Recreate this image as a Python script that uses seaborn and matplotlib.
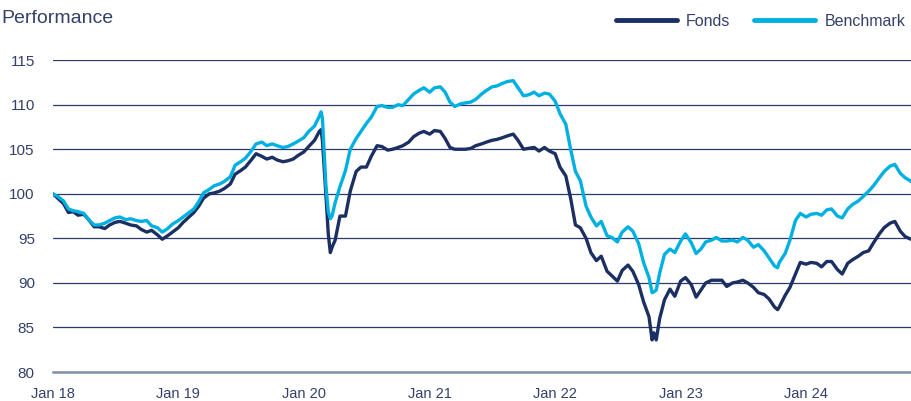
import pandas as pd
import numpy as np
import matplotlib
matplotlib.use('Agg')
import matplotlib.pyplot as plt
import matplotlib.dates as mdates
import seaborn as sns

# -------------------------------
# Data
# -------------------------------
dates = [
    '2018-01-01', '2018-01-15', '2018-02-01', '2018-02-15', '2018-03-01', '2018-03-15',
    '2018-04-01', '2018-04-15', '2018-05-01', '2018-05-15', '2018-06-01', '2018-06-15',
    '2018-07-01', '2018-07-15', '2018-08-01', '2018-08-15', '2018-09-01', '2018-09-15',
    '2018-10-01', '2018-10-15', '2018-11-01', '2018-11-15', '2018-12-01', '2018-12-15',
    '2019-01-01', '2019-01-15', '2019-02-01', '2019-02-15', '2019-03-01', '2019-03-15',
    '2019-04-01', '2019-04-15', '2019-05-01', '2019-05-15', '2019-06-01', '2019-06-15',
    '2019-07-01', '2019-07-15', '2019-08-01', '2019-08-15', '2019-09-01', '2019-09-15',
    '2019-10-01', '2019-10-15', '2019-11-01', '2019-11-15', '2019-12-01', '2019-12-15',
    '2020-01-01', '2020-01-15', '2020-02-01', '2020-02-15', '2020-02-20', '2020-02-24',
    '2020-03-05', '2020-03-12', '2020-03-18', '2020-03-23', '2020-04-01', '2020-04-15',
    '2020-05-01', '2020-05-15', '2020-06-01', '2020-06-15', '2020-07-01', '2020-07-15',
    '2020-08-01', '2020-08-15', '2020-09-01', '2020-09-15', '2020-10-01', '2020-10-15',
    '2020-11-01', '2020-11-15', '2020-12-01', '2020-12-15',
    '2021-01-01', '2021-01-15', '2021-02-01', '2021-02-15', '2021-03-01', '2021-03-15',
    '2021-04-01', '2021-04-15', '2021-05-01', '2021-05-15', '2021-06-01', '2021-06-15',
    '2021-07-01', '2021-07-15', '2021-08-01', '2021-08-15', '2021-09-01', '2021-09-15',
    '2021-10-01', '2021-10-15', '2021-11-01', '2021-11-15', '2021-12-01', '2021-12-15',
    '2022-01-01', '2022-01-15', '2022-02-01', '2022-02-15', '2022-03-01', '2022-03-15',
    '2022-04-01', '2022-04-15', '2022-05-01', '2022-05-15', '2022-06-01', '2022-06-15',
    '2022-07-01', '2022-07-15', '2022-08-01', '2022-08-15', '2022-09-01', '2022-09-15',
    '2022-10-01', '2022-10-10', '2022-10-15', '2022-10-22', '2022-11-01', '2022-11-15',
    '2022-12-01', '2022-12-15',
    '2023-01-01', '2023-01-15', '2023-02-01', '2023-02-15', '2023-03-01', '2023-03-15',
    '2023-04-01', '2023-04-15', '2023-05-01', '2023-05-15', '2023-06-01', '2023-06-15',
    '2023-07-01', '2023-07-15', '2023-08-01', '2023-08-15', '2023-09-01', '2023-09-15',
    '2023-10-01', '2023-10-10', '2023-10-15', '2023-11-01', '2023-11-15', '2023-12-01',
    '2023-12-15',
    '2024-01-01', '2024-01-15', '2024-02-01', '2024-02-15', '2024-03-01', '2024-03-15',
    '2024-04-01', '2024-04-15', '2024-05-01', '2024-05-15', '2024-06-01', '2024-06-15',
    '2024-07-01', '2024-07-15', '2024-08-01', '2024-08-15', '2024-09-01', '2024-09-15',
    '2024-10-01', '2024-10-15', '2024-11-01',
]

fonds = [
    100.0, 99.5, 98.9, 97.9, 98.0, 97.6,
    97.7, 97.1, 96.3, 96.3, 96.1, 96.5,
    96.8, 96.9, 96.7, 96.5, 96.4, 96.0,
    95.7, 95.9, 95.4, 94.9, 95.3, 95.7,
    96.2, 96.8, 97.4, 97.9, 98.6, 99.5,
    100.0, 100.1, 100.3, 100.6, 101.1, 102.2,
    102.6, 103.0, 103.8, 104.5, 104.2, 103.9,
    104.1, 103.8, 103.6, 103.7, 103.9, 104.3,
    104.7, 105.3, 106.0, 107.0, 107.2, 106.0,
    100.0, 95.5, 93.4, 94.0, 94.8, 97.5,
    97.5, 100.3, 102.5, 103.0, 103.0, 104.2,
    105.4, 105.3, 104.9, 105.0, 105.2, 105.4,
    105.8, 106.4, 106.8, 107.0,
    106.7, 107.1, 107.0, 106.2, 105.2, 105.0,
    105.0, 105.0, 105.1, 105.4, 105.6, 105.8,
    106.0, 106.1, 106.3, 106.5, 106.7, 106.0,
    105.0, 105.1, 105.2, 104.8, 105.2, 104.8,
    104.5, 103.0, 102.0, 99.5, 96.5, 96.2,
    95.0, 93.4, 92.5, 93.0, 91.3, 90.8,
    90.2, 91.4, 92.0, 91.3, 89.8, 87.9,
    86.2, 83.6, 84.4, 83.6, 86.0, 88.1,
    89.3, 88.5,
    90.2, 90.6, 89.8, 88.4, 89.2, 90.0,
    90.3, 90.3, 90.3, 89.6, 90.0, 90.1,
    90.3, 90.0, 89.5, 88.9, 88.7, 88.2,
    87.3, 87.0, 87.3, 88.6, 89.5, 91.0,
    92.3,
    92.1, 92.3, 92.2, 91.8, 92.4, 92.4,
    91.5, 91.0, 92.2, 92.6, 93.0, 93.4,
    93.6, 94.5, 95.5, 96.2, 96.7, 96.9,
    95.8, 95.2, 94.9,
]

benchmark = [
    100.0, 99.7, 99.2, 98.3, 98.1, 98.0,
    97.8, 97.1, 96.5, 96.5, 96.7, 97.0,
    97.3, 97.4, 97.1, 97.2, 97.0, 96.9,
    97.0, 96.4, 96.2, 95.7, 96.1, 96.6,
    97.0, 97.4, 97.9, 98.3, 99.1, 100.1,
    100.5, 100.9, 101.1, 101.4, 101.9, 103.2,
    103.6, 104.0, 104.8, 105.6, 105.8, 105.4,
    105.6, 105.4, 105.2, 105.3, 105.6, 105.9,
    106.3, 107.0, 107.6, 108.7, 109.2, 108.5,
    101.0, 98.0, 97.2, 97.5, 99.0, 100.8,
    102.6, 105.0, 106.2, 107.0, 107.9, 108.6,
    109.8, 109.9, 109.7, 109.7, 110.0, 109.9,
    110.6, 111.2, 111.6, 111.9,
    111.4, 111.9, 112.0, 111.4, 110.3, 109.8,
    110.1, 110.2, 110.3, 110.6, 111.2, 111.6,
    112.0, 112.1, 112.4, 112.6, 112.7, 111.9,
    111.0, 111.1, 111.4, 111.0, 111.3, 111.2,
    110.4, 109.0, 107.8, 105.0, 102.5, 101.5,
    98.6, 97.4, 96.4, 96.9, 95.3, 95.1,
    94.6, 95.7, 96.3, 95.8, 94.4, 92.3,
    90.6, 88.9, 89.0, 89.2, 91.1, 93.2,
    93.8, 93.4,
    94.7, 95.5, 94.5, 93.3, 93.8, 94.6,
    94.8, 95.1, 94.7, 94.7, 94.8, 94.6,
    95.1, 94.8, 94.0, 94.3, 93.6, 92.8,
    91.9, 91.7, 92.3, 93.3, 94.8, 97.0,
    97.8,
    97.4, 97.7, 97.8, 97.6, 98.2, 98.3,
    97.5, 97.3, 98.3, 98.8, 99.2, 99.7,
    100.3, 100.9, 101.8, 102.5, 103.1, 103.3,
    102.3, 101.8, 101.4,
]

series_names = ['Fonds', 'Benchmark']
y_ticks = [80, 85, 90, 95, 100, 105, 110, 115]
x_tick_years = [2018, 2019, 2020, 2021, 2022, 2023, 2024]

# -------------------------------
# Build long-form table
# -------------------------------
dt = pd.to_datetime(dates)
df = pd.concat([
    pd.DataFrame({'date': dt, 'value': fonds, 'series': series_names[0]}),
    pd.DataFrame({'date': dt, 'value': benchmark, 'series': series_names[1]}),
])

navy = '#1b2f63'
cyan = '#00b0e0'
text_col = '#34406a'
axis_col = '#7f8db0'

sns.set_theme(style='white')
plt.rcParams['font.family'] = ['Liberation Sans', 'DejaVu Sans']

fig = plt.figure(figsize=(9.12, 4.01), dpi=100)
ax = fig.add_axes([0.058, 0.0723, 0.942, 0.7777])

# gridlines
for v in y_ticks[1:]:
    ax.axhline(v, color='#2a3a6a', lw=0.9, zorder=1)

sns.lineplot(data=df, x='date', y='value', hue='series', hue_order=series_names,
             palette=[navy, cyan], linewidth=2.4, ax=ax, legend=False, zorder=3)

ax.set_ylim(80, 115)
ax.set_xlim(pd.Timestamp('2018-01-01'), pd.Timestamp('2024-11-04'))
ax.set_yticks(y_ticks)
ax.set_xticks([pd.Timestamp(f'{y}-01-01') for y in x_tick_years])
ax.xaxis.set_major_formatter(mdates.DateFormatter('Jan %y'))
ax.set_xlabel('')
ax.set_ylabel('')

for s in ['top', 'right', 'left']:
    ax.spines[s].set_visible(False)
ax.spines['bottom'].set_color(axis_col)
ax.spines['bottom'].set_linewidth(1.8)
ax.tick_params(axis='x', direction='out', length=5, width=1, color=axis_col,
               labelsize=10.5, labelcolor=text_col, pad=6)
ax.tick_params(axis='y', length=0, labelsize=11, labelcolor=text_col, pad=13)

fig.text(0.001, 0.953, 'Performance', fontsize=14, color=text_col, va='center', ha='left')

# legend
handles = [plt.Line2D([], [], color=navy, lw=3.5), plt.Line2D([], [], color=cyan, lw=3.5)]
fig.legend(handles, series_names, loc='center right', bbox_to_anchor=(1.0, 0.947),
           ncol=2, frameon=False, fontsize=11.5, labelcolor=text_col,
           handlelength=3.8, handletextpad=0.6, columnspacing=1.5, borderaxespad=0)

fig.savefig('out.png', dpi=100)
